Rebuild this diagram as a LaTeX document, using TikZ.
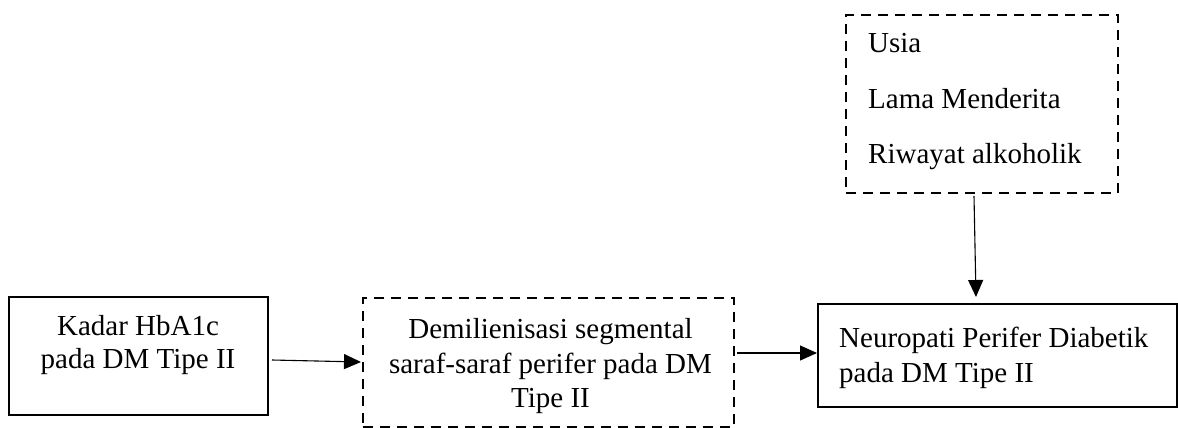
\documentclass[tikz,border=0pt]{standalone}
\usepackage{fontspec}
\setmainfont{Liberation Serif}
\usetikzlibrary{arrows.meta}
\begin{document}
\begin{tikzpicture}[x=1pt,y=-1pt,
  solidbox/.style={draw=black,line width=1.3pt,fill=none,inner sep=0pt},
  dashbox/.style={draw=black,line width=2.5pt,dash pattern=on 10pt off 7pt,fill=none,inner sep=0pt},
  txt/.style={inner sep=0pt,font=\fontsize{29}{35}\selectfont},
  arr/.style={draw=black,line width=1.1pt,-{Triangle[length=17pt,width=15pt]}}]
\useasboundingbox (0,0) rectangle (1178,428);
% boxes
\node[solidbox,minimum width=259pt,minimum height=118pt] (b1) at (138.5,356) {};
\node[dashbox,minimum width=371pt,minimum height=129pt] (b2) at (548.5,362.5) {};
\node[solidbox,minimum width=359pt,minimum height=103pt] (b3) at (997.5,355.5) {};
\node[dashbox,minimum width=272pt,minimum height=178pt] (b4) at (982,104) {};
% texts
\node[txt,anchor=base] (t11) at (138,335) {Kadar HbA1c};
\node[txt,anchor=base] (t12) at (138,368) {pada DM Tipe II};
\node[txt,anchor=base] (t21) at (550.5,338) {Demilienisasi segmental};
\node[txt,anchor=base] (t22) at (550.5,373) {saraf-saraf perifer pada DM};
\node[txt,anchor=base] (t23) at (550.5,407) {Tipe II};
\node[txt,anchor=base west] (t31) at (839,347) {Neuropati Perifer Diabetik};
\node[txt,anchor=base west] (t32) at (839,382) {pada DM Tipe II};
\node[txt,anchor=base west] (t41) at (868,53) {Usia};
\node[txt,anchor=base west] (t42) at (868,108) {Lama Menderita};
\node[txt,anchor=base west] (t43) at (868,163) {Riwayat alkoholik};
% connectors
\coordinate (a1s) at (272,360);
\coordinate (a1e) at (361,362);
\draw[arr] (a1s) -- (a1e);
\coordinate (a2s) at (737,353);
\coordinate (a2e) at (817,353);
\draw[arr] (a2s) -- (a2e);
\coordinate (a3s) at (974,196);
\coordinate (a3e) at (976,297);
\draw[arr] (a3s) -- (a3e);
\end{tikzpicture}
\end{document}
